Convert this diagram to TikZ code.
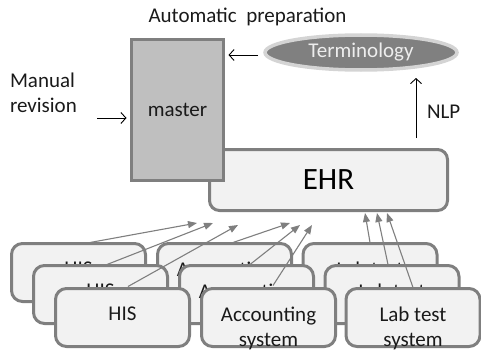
\documentclass[tikz,border=0pt]{standalone}
\usepackage{fontspec}
\setmainfont{Carlito}
\usetikzlibrary{arrows.meta,shapes.geometric}
\definecolor{boxfill}{HTML}{F2F2F2}
\definecolor{boxline}{HTML}{7F7F7F}
\definecolor{masterfill}{HTML}{BFBFBF}
\definecolor{termfill}{HTML}{808080}
\definecolor{termglow}{HTML}{D4D4D4}
\definecolor{termtext}{HTML}{EDEDED}
\definecolor{inkcol}{HTML}{1A1A1A}
\newcommand\syslayer[4]{%
  \node[sysbox] (#1) at (#2,#3) {};
  \node[systxt] (#1t) at ([yshift=-18.5pt]#1.north) {#4};
}
\begin{document}
\begin{tikzpicture}[x=1pt,y=-1pt,
  lbl/.style={font=\fontsize{21}{25}\selectfont, text=inkcol, inner sep=0pt, outer sep=0pt},
  sysbox/.style={draw=boxline, fill=boxfill, line width=3pt, rounded corners=11pt,
    minimum width=134pt, minimum height=58pt, inner sep=0pt, outer sep=0pt},
  systxt/.style={lbl, align=center, anchor=north},
  feed/.style={draw=boxline, line width=1.1pt, -{Triangle[length=9pt,width=7pt]}},
  plainarr/.style={draw=black, line width=0.9pt, -{Straight Barb[length=5pt,width=11pt]}},
]
\useasboundingbox (0,0) rectangle (481,353);

% EHR
\node[draw=boxline, fill=boxfill, line width=3pt, rounded corners=10pt,
  minimum width=238pt, minimum height=61pt, inner sep=0pt, outer sep=0pt,
  font=\fontsize{31}{36}\selectfont, text=black] (ehr) at (328.5,180) {EHR};

% master
\node[draw=boxline, fill=masterfill, line width=3pt,
  minimum width=92pt, minimum height=141pt, inner sep=0pt, outer sep=0pt,
  lbl] (master) at (177.5,110) {master};

% Terminology
\node[ellipse, draw=termglow, fill=termfill, line width=3.5pt,
  minimum width=192pt, minimum height=35pt, inner sep=0pt, outer sep=0pt,
  font=\fontsize{21}{25}\selectfont, text=termtext] (term) at (361,52.5) {Terminology};

% labels
\node[lbl, anchor=base] (auto) at (247.5,23) {Automatic\ \ preparation};
\node[lbl, anchor=base west, align=left] (manual) at (10,112) {Manual\\revision};
\node[lbl, anchor=base west] (nlp) at (427,118) {NLP};

% black arrows
\coordinate (manS) at (97,118);
\draw[plainarr] (manS) -- ([xshift=-5pt]master.west |- manS);
\coordinate (termS) at (258,55);
\draw[plainarr] (termS) -- ([xshift=5pt]master.east |- termS);
\coordinate (nlpS) at (416,138);
\coordinate (nlpE) at (416,78);
\draw[plainarr] (nlpS) -- (nlpE);

% system stacks: back layer
\syslayer{hisA}{78.5}{272.5}{HIS}
\syslayer{accA}{224.5}{272.5}{Accounting\\system}
\syslayer{labA}{370}{272.5}{Lab test\\system}
% middle layer
\syslayer{hisB}{100.5}{294.5}{HIS}
\syslayer{accB}{246.5}{294.5}{Accounting\\system}
\syslayer{labB}{392}{294.5}{Lab test\\system}
% front layer
\syslayer{hisC}{122.5}{317.5}{HIS}
\syslayer{accC}{268.5}{317.5}{Accounting\\system}
\syslayer{labC}{413}{317.5}{Lab test\\system}

% feed arrows to EHR
\coordinate (e1) at (197,223);
\coordinate (e2) at (213,223);
\coordinate (e3) at (238,225);
\coordinate (e4) at (290,223);
\coordinate (e5) at (300,225);
\coordinate (e6) at (312,225);
\coordinate (e7) at (365,213);
\coordinate (e8) at (377,213);
\coordinate (e9) at (387,213);
\draw[feed] ([xshift=11.5pt,yshift=1pt]hisA.north) -- (e1);
\draw[feed] ([xshift=6.5pt,yshift=1pt]hisB.north) -- (e2);
\draw[feed] ([xshift=5.5pt,yshift=2pt]hisC.north) -- (e3);
\draw[feed] ([xshift=8.5pt,yshift=1pt]accA.north) -- (e4);
\draw[feed] ([xshift=3.5pt,yshift=1pt]accB.north) -- (e5);
\draw[feed] ([xshift=4.5pt,yshift=3pt]accC.north) -- (e6);
\draw[feed] ([xshift=0pt,yshift=1pt]labA.north) -- (e7);
\draw[feed] ([xshift=-4pt,yshift=1pt]labB.north) -- (e8);
\draw[feed] ([xshift=0pt,yshift=1pt]labC.north) -- (e9);
\end{tikzpicture}
\end{document}
